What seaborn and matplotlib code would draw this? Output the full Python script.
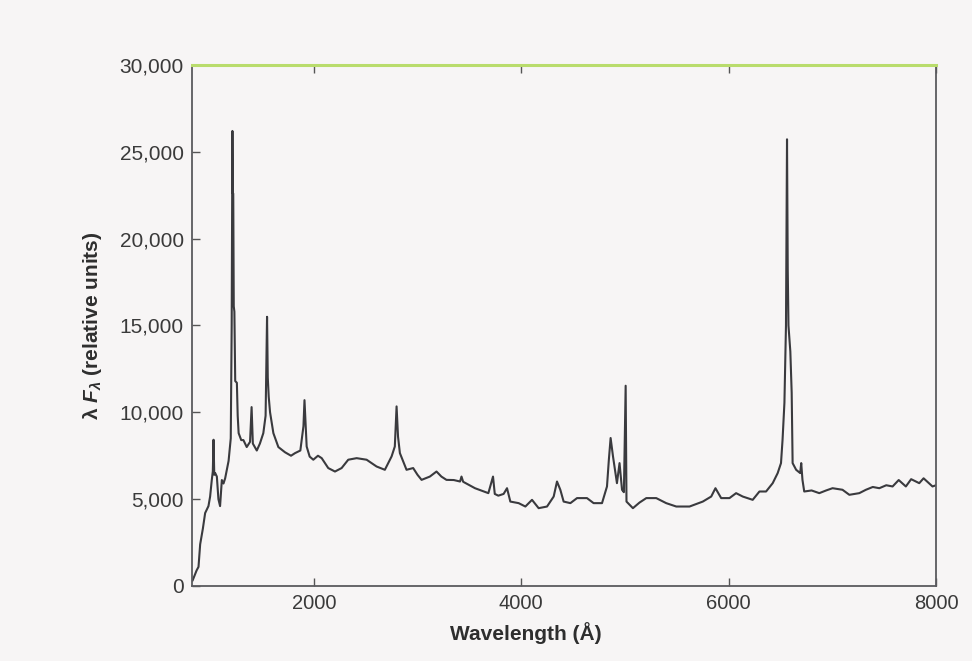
import matplotlib
matplotlib.use("Agg")
import matplotlib.pyplot as plt
from matplotlib.ticker import FuncFormatter
import seaborn as sns
import pandas as pd

# Composite quasar spectrum, lambda * F_lambda in relative units
wavelength = [
    830, 870, 888, 904, 930, 952, 984, 1000, 1016, 1026, 1033, 1040, 1049, 1065,
    1080, 1096, 1113, 1129, 1145, 1161, 1178, 1199, 1208, 1215, 1219, 1223, 1228,
    1234, 1242, 1258, 1266, 1275, 1300, 1321, 1353, 1385, 1400, 1412, 1450, 1480,
    1513, 1535, 1549, 1556, 1565, 1578, 1610, 1658, 1722, 1780, 1819, 1870, 1900,
    1910, 1931, 1960, 1995, 2040, 2076, 2139, 2204, 2268, 2332, 2413, 2509, 2605,
    2685, 2750, 2781, 2798, 2812, 2830, 2894, 2958, 3000, 3039, 3119, 3183, 3230,
    3279, 3350, 3410, 3424, 3440, 3554, 3683, 3728, 3745, 3779, 3830, 3863, 3895,
    3975, 4040, 4104, 4168, 4249, 4313, 4345, 4377, 4409, 4474, 4538, 4634, 4698,
    4779, 4827, 4845, 4862, 4885, 4923, 4948, 4972, 4990, 5007, 5015, 5077, 5140,
    5206, 5302, 5398, 5495, 5623, 5751, 5832, 5873, 5928, 6008, 6072, 6136, 6232,
    6297, 6361, 6425, 6473, 6505, 6520, 6538, 6553, 6563, 6570, 6577, 6595, 6608,
    6617, 6651, 6690, 6700, 6712, 6729, 6800, 6874, 6940, 7002, 7098, 7164, 7260,
    7324, 7390, 7453, 7520, 7581, 7640, 7709, 7760, 7838, 7880, 7966, 8000,
]
flux = [
    300, 900, 1100, 2400, 3300, 4200, 4600, 5150, 6100, 6600, 8420, 6400, 6500, 6300,
    5000, 4600, 6100, 5900, 6200, 6700, 7200, 8500, 15000, 26200, 22600, 22600, 16100,
    15800, 11800, 11700, 9800, 8800, 8400, 8400, 8000, 8300, 10300, 8200, 7800, 8200,
    8800, 9800, 15500, 12000, 10900, 10000, 8800, 8000, 7700, 7500, 7650, 7800, 9200,
    10700, 8030, 7450, 7270, 7500, 7360, 6790, 6590, 6790, 7270, 7360, 7270, 6880,
    6690, 7460, 8030, 10340, 8600, 7650, 6690, 6790, 6400, 6110, 6300, 6590, 6300,
    6110, 6100, 6015, 6300, 6000, 5630, 5345, 6300, 5300, 5200, 5300, 5630, 4860,
    4770, 4575, 4960, 4480, 4575, 5150, 6015, 5540, 4860, 4770, 5060, 5060, 4770,
    4770, 5730, 7270, 8520, 7460, 5920, 7075, 5540, 5400, 11530, 4860, 4480, 4800,
    5060, 5060, 4770, 4575, 4575, 4860, 5150, 5630, 5060, 5060, 5345, 5150, 4960,
    5440, 5440, 5920, 6500, 7075, 8420, 10550, 15000, 25720, 18220, 15000, 13500, 11130,
    7075, 6690, 6500, 7075, 6110, 5440, 5500, 5345, 5500, 5630, 5540, 5250, 5345,
    5540, 5700, 5630, 5800, 5730, 6100, 5730, 6150, 5920, 6200, 5730, 5800,
]

x_ticks = [2000, 4000, 6000, 8000]
y_ticks = [0, 5000, 10000, 15000, 20000, 25000, 30000]

spectrum = pd.DataFrame({"wavelength": wavelength, "flux": flux})

sns.set_style("ticks")
plt.rcParams["font.family"] = ["Liberation Sans", "DejaVu Sans"]
plt.rcParams["mathtext.fontset"] = "custom"
plt.rcParams["mathtext.it"] = "Liberation Sans:bold:italic"
plt.rcParams["mathtext.rm"] = "Liberation Sans:bold"

paper = "#f7f5f5"
fig = plt.figure(figsize=(9.72, 6.61), dpi=100, facecolor=paper)
ax = fig.add_axes([0.1975, 0.1135, 0.7655, 0.7882])
ax.set_facecolor(paper)

sns.lineplot(data=spectrum, x="wavelength", y="flux", ax=ax,
             color="#3a3a3e", linewidth=1.5, estimator=None, sort=False)

ax.set_xlim(825, 8000)
ax.set_ylim(0, 30000)
ax.set_xticks(x_ticks)
ax.set_yticks(y_ticks)
ax.yaxis.set_major_formatter(FuncFormatter(lambda v, _: f"{int(v):,}"))

ax.tick_params(axis="both", direction="in", length=6, width=1.0,
               colors="#555555", labelcolor="#3a3a3a")
ax.tick_params(axis="x", labelsize=14.5, pad=6, top=True)
ax.tick_params(axis="y", labelsize=15, pad=6)

for side in ["left", "bottom", "right"]:
    ax.spines[side].set_color("#5a5a5e")
    ax.spines[side].set_linewidth(1.3)
ax.spines["top"].set_color("#b9dc6c")
ax.spines["top"].set_linewidth(2.2)

ax.set_xlabel("Wavelength (Å)", fontsize=15, fontweight="bold", color="#2e2e2e")
ax.set_ylabel(r"λ $F_\lambda$ (relative units)", fontsize=15,
              fontweight="bold", color="#2e2e2e")
ax.xaxis.set_label_coords(0.449, -0.090)
ax.xaxis.label.set_va("center")
ax.yaxis.set_label_coords(-0.134, 0.5)
ax.yaxis.label.set_va("center")

fig.savefig("out.png", dpi=100, facecolor=paper)
